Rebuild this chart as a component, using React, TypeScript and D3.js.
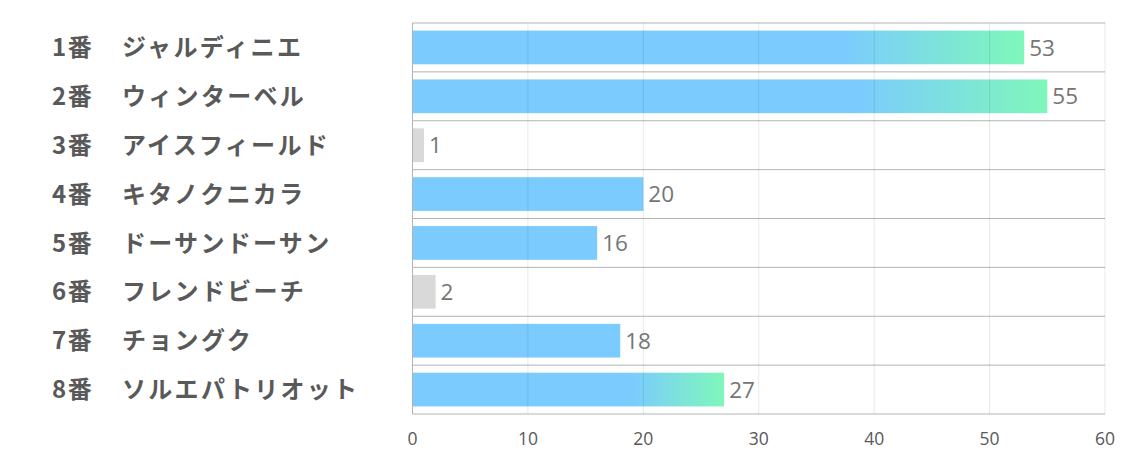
import React from "react";
import * as d3 from "d3";

const categories = [
  "1番　ジャルディニエ",
  "2番　ウィンターベル",
  "3番　アイスフィールド",
  "4番　キタノクニカラ",
  "5番　ドーサンドーサン",
  "6番　フレンドビーチ",
  "7番　チョングク",
  "8番　ソルエパトリオット",
];
const values = [53, 55, 1, 20, 16, 2, 18, 27];
const barKinds = ["gradient", "gradient", "gray", "blue", "blue", "gray", "blue", "gradient"];
const xTicks = [0, 10, 20, 30, 40, 50, 60];

const W = 1134;
const H = 453;
const left = 412.5;
const right = 1105;
const top = 23;
const bottom = 414;

export default function App() {
  const x = d3.scaleLinear().domain([0, 60]).range([left, right]);
  const y = d3
    .scaleBand<string>()
    .domain(categories)
    .range([top, bottom])
    .paddingInner(0.31)
    .paddingOuter(0.155);
  const step = y.step();
  const blue = "#7BCBFF";
  const green = "#7FF7BA";
  const gray = "#D9D9D9";

  return (
    <svg
      width={W}
      height={H}
      style={{ position: "absolute", left: 0, top: 0, background: "#fff" }}
    >
      <defs>
        <linearGradient id="grad" x1="0" y1="0" x2="1" y2="0">
          <stop offset="0" stopColor={blue} />
          <stop offset="0.7" stopColor={blue} />
          <stop offset="1" stopColor={green} />
        </linearGradient>
      </defs>
      {d3.range(categories.length + 1).map((i) => (
        <line
          key={"h" + i}
          x1={left}
          x2={right}
          y1={top + step * i}
          y2={top + step * i}
          stroke="#B3B3B3"
          strokeWidth={1}
        />
      ))}
      {categories.map((c, i) => (
        <rect
          key={"b" + i}
          x={x(0)}
          y={y(c)}
          width={x(values[i]) - x(0)}
          height={y.bandwidth()}
          fill={barKinds[i] === "gradient" ? "url(#grad)" : barKinds[i] === "gray" ? gray : blue}
        />
      ))}
      {xTicks.map((t) => (
        <line
          key={"v" + t}
          x1={x(t)}
          x2={x(t)}
          y1={top}
          y2={bottom}
          stroke={t === 0 ? "#B3B3B3" : "rgba(0,0,0,0.09)"}
          strokeWidth={1}
        />
      ))}
      {categories.map((c, i) => (
        <text
          key={"v" + i}
          x={x(values[i]) + 5}
          y={(y(c) as number) + y.bandwidth() / 2}
          dy="0.36em"
          fontFamily="'Open Sans', 'Noto Sans', sans-serif"
          fontSize={22.5}
          fill="#757575"
        >
          {values[i]}
        </text>
      ))}
      {categories.map((c, i) => {
        const [num, name] = c.split("　");
        const cy = (y(c) as number) + y.bandwidth() / 2;
        return (
          <g
            key={"c" + i}
            fontFamily="'Noto Sans CJK JP', sans-serif"
            fontWeight="bold"
            fontSize={24}
            fill="#595959"
          >
            <text x={52} y={cy} dy="0.36em" letterSpacing={1.5}>
              {num}
            </text>
            <text x={122} y={cy} dy="0.36em" letterSpacing={2.3}>
              {name}
            </text>
          </g>
        );
      })}
      {xTicks.map((t) => (
        <text
          key={"t" + t}
          x={x(t)}
          y={439}
          dy="0.36em"
          textAnchor="middle"
          fontFamily="'Open Sans', 'Noto Sans', sans-serif"
          fontSize={17.5}
          fill="#595959"
        >
          {t}
        </text>
      ))}
    </svg>
  );
}
